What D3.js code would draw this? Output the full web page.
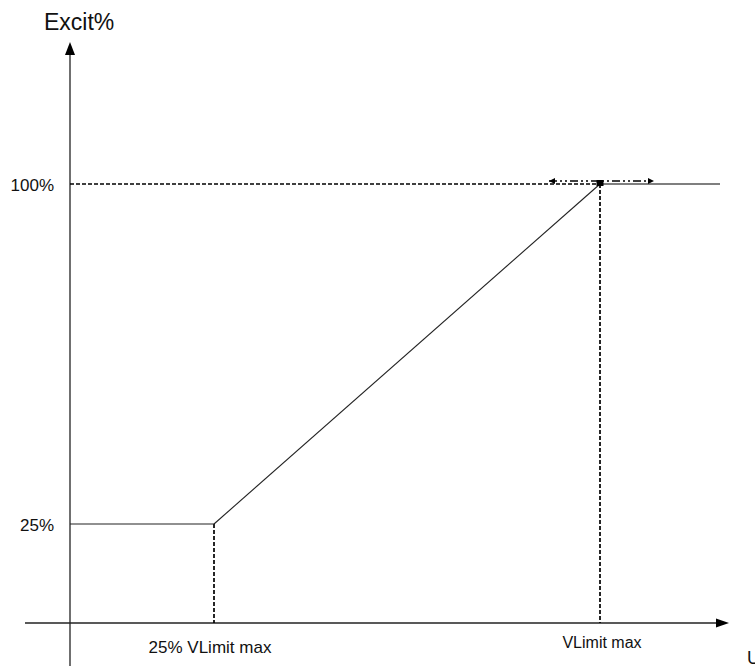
<!DOCTYPE html>
<html>
<head>
<meta charset="utf-8">
<script src="https://cdn.jsdelivr.net/npm/d3@7"></script>
<style>
  html, body { margin: 0; padding: 0; background: #fff; }
  svg { display: block; }
  text { font-family: "Liberation Sans", Arial, sans-serif; fill: #111; }
</style>
</head>
<body>
<script>
// ---- data ----
const xLabelNames = ["25% VLimit max", "VLimit max"];
const xBreakpoints = [0.25, 1.0];      // fraction of VLimit max
const yLabelNames = ["25%", "100%"];
const yBreakpoints = [25, 100];        // Excit %
const axisTitleY = "Excit%";
const axisTitleX = "U";

const W = 755, H = 666;
const svg = d3.select("body").append("svg").attr("width", W).attr("height", H);

// frame (axis) geometry
const originX = 70, axisY = 623;
const plotRight = 720;

const x = d3.scaleLinear().domain([0.25, 1.0]).range([214, 600]);
const y = d3.scaleLinear().domain([25, 100]).range([524, 184]);

const ink = "#222";

const defs = svg.append("defs");
defs.append("marker").attr("id", "ah").attr("viewBox", "0 0 10 10")
  .attr("refX", 10).attr("refY", 5).attr("markerWidth", 9).attr("markerHeight", 6)
  .attr("markerUnits", "userSpaceOnUse").attr("orient", "auto-start-reverse")
  .append("path").attr("d", "M0,0 L10,5 L0,10 Z").attr("fill", "#000");

// axes
svg.append("line").attr("x1", originX).attr("x2", originX).attr("y1", H).attr("y2", 55)
  .attr("stroke", ink).attr("stroke-width", 1.3);
svg.append("path").attr("d", `M${originX},42 L${originX-5},55 L${originX+5},55 Z`).attr("fill", "#000");

svg.append("line").attr("x1", 25).attr("x2", 717).attr("y1", axisY).attr("y2", axisY)
  .attr("stroke", ink).attr("stroke-width", 1.3);
svg.append("path").attr("d", `M729,${axisY} L716,${axisY-4.5} L716,${axisY+4.5} Z`).attr("fill", "#000");

// dashed guides
const dash = "4,2";
svg.append("line").attr("x1", originX).attr("x2", x(xBreakpoints[1]))
  .attr("y1", y(yBreakpoints[1])).attr("y2", y(yBreakpoints[1]))
  .attr("stroke", "#000").attr("stroke-width", 1.5).attr("stroke-dasharray", dash);
xBreakpoints.forEach((xv, i) => {
  svg.append("line").attr("x1", x(xv)).attr("x2", x(xv))
    .attr("y1", y(yBreakpoints[i])).attr("y2", axisY)
    .attr("stroke", "#000").attr("stroke-width", 1.7).attr("stroke-dasharray", dash);
});

// characteristic curve
svg.append("line").attr("x1", originX).attr("x2", x(xBreakpoints[0]))
  .attr("y1", y(yBreakpoints[0])).attr("y2", y(yBreakpoints[0]))
  .attr("stroke", ink).attr("stroke-width", 1.1);
svg.append("path")
  .datum(xBreakpoints.map((xv, i) => [xv, yBreakpoints[i]]))
  .attr("d", d3.line().x(d => x(d[0])).y(d => y(d[1])))
  .attr("fill", "none").attr("stroke", ink).attr("stroke-width", 1.1);
svg.append("line").attr("x1", x(xBreakpoints[1])).attr("x2", plotRight)
  .attr("y1", y(yBreakpoints[1])).attr("y2", y(yBreakpoints[1]))
  .attr("stroke", "#555").attr("stroke-width", 1.4);

// adjustable point marker + dash-dot-dot double arrow
svg.append("rect").attr("x", x(xBreakpoints[1]) - 3.5).attr("y", y(yBreakpoints[1]) - 4)
  .attr("width", 7).attr("height", 6).attr("fill", "#000");
svg.append("line").attr("x1", x(xBreakpoints[1]) - 51).attr("x2", x(xBreakpoints[1]) + 54)
  .attr("y1", y(yBreakpoints[1]) - 3).attr("y2", y(yBreakpoints[1]) - 3)
  .attr("stroke", "#000").attr("stroke-width", 1.5).attr("stroke-dasharray", "8,3,2,3,2,3")
  .attr("marker-start", "url(#ah)").attr("marker-end", "url(#ah)");

// labels
yBreakpoints.forEach((yv, i) => {
  svg.append("text").attr("x", 54).attr("y", y(yv) + 7).attr("text-anchor", "end")
    .attr("font-size", 17).text(yLabelNames[i]);
});
svg.append("text").attr("x", x(xBreakpoints[0]) - 4).attr("y", 653).attr("text-anchor", "middle")
  .attr("font-size", 17).text(xLabelNames[0]);
svg.append("text").attr("x", x(xBreakpoints[1]) + 2).attr("y", 648).attr("text-anchor", "middle")
  .attr("font-size", 16).text(xLabelNames[1]);

svg.append("text").attr("x", 44).attr("y", 30).attr("font-size", 23).text(axisTitleY);
svg.append("text").attr("x", 747).attr("y", 664).attr("font-size", 18).text(axisTitleX);
</script>
</body>
</html>
